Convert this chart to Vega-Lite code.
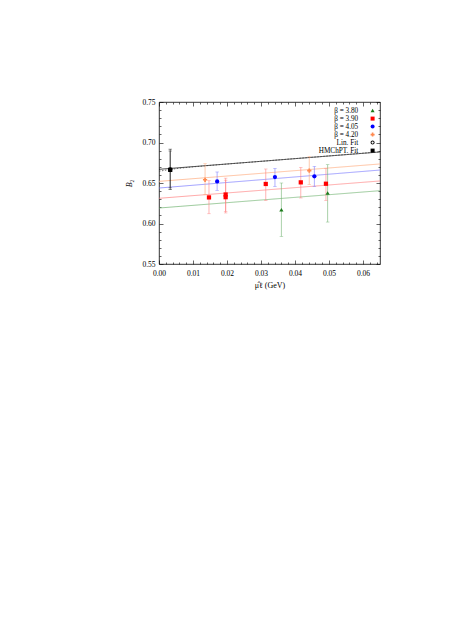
{
  "$schema": "https://vega.github.io/schema/vega-lite/v6.json",
  "autosize": "none",
  "width": 221,
  "height": 162,
  "padding": {"left": 159, "top": 102, "right": 75, "bottom": 379},
  "background": "white",
  "config": {
    "font": "Liberation Serif",
    "view": {"stroke": "black", "strokeWidth": 0.8},
    "axis": {"grid": false, "domain": false, "labelFlush": false, "labelOverlap": false, "tickColor": "black", "tickWidth": 0.6, "labelColor": "black", "titleColor": "black", "labelFontSize": 7.5, "titleFontSize": 8, "titleFontWeight": "normal", "labelFont": "Liberation Serif", "titleFont": "Liberation Serif"}
  },
  "datasets": {
    "fits": [
      {"series": "β = 3.80", "x": 0, "y": 0.6191},
      {"series": "β = 3.80", "x": 0.065, "y": 0.6405},
      {"series": "β = 3.90", "x": 0, "y": 0.6311},
      {"series": "β = 3.90", "x": 0.065, "y": 0.6525},
      {"series": "β = 4.05", "x": 0, "y": 0.6438},
      {"series": "β = 4.05", "x": 0.065, "y": 0.666},
      {"series": "β = 4.20", "x": 0, "y": 0.652},
      {"series": "β = 4.20", "x": 0.065, "y": 0.6735},
      {"series": "Lin. Fit", "x": 0, "y": 0.6669},
      {"series": "Lin. Fit", "x": 0.065, "y": 0.6883},
      {"series": "HMChPT. Fit", "x": 0, "y": 0.6645},
      {"series": "HMChPT. Fit", "x": 0.003, "y": 0.6666},
      {"series": "HMChPT. Fit", "x": 0.006, "y": 0.6682},
      {"series": "HMChPT. Fit", "x": 0.01, "y": 0.6699},
      {"series": "HMChPT. Fit", "x": 0.015, "y": 0.6717},
      {"series": "HMChPT. Fit", "x": 0.065, "y": 0.6885}
    ],
    "pts": [
      {"series": "β = 3.80", "x": 0.036, "y": 0.617, "lo": 0.584, "hi": 0.65},
      {"series": "β = 3.80", "x": 0.0496, "y": 0.6377, "lo": 0.6018, "hi": 0.6726},
      {"series": "β = 3.90", "x": 0.0147, "y": 0.6322, "lo": 0.612, "hi": 0.6528},
      {"series": "β = 3.90", "x": 0.0196, "y": 0.6358, "lo": 0.615, "hi": 0.656},
      {"series": "β = 3.90", "x": 0.0196, "y": 0.6325, "lo": 0.613, "hi": 0.6535},
      {"series": "β = 3.90", "x": 0.0314, "y": 0.6488, "lo": 0.6285, "hi": 0.6673},
      {"series": "β = 3.90", "x": 0.0417, "y": 0.6508, "lo": 0.6315, "hi": 0.6693},
      {"series": "β = 3.90", "x": 0.0491, "y": 0.6491, "lo": 0.6285, "hi": 0.6677},
      {"series": "β = 4.05", "x": 0.0171, "y": 0.652, "lo": 0.641, "hi": 0.6636},
      {"series": "β = 4.05", "x": 0.0341, "y": 0.6574, "lo": 0.6458, "hi": 0.668},
      {"series": "β = 4.05", "x": 0.0457, "y": 0.6582, "lo": 0.6458, "hi": 0.6705},
      {"series": "β = 4.20", "x": 0.01355, "y": 0.654, "lo": 0.6355, "hi": 0.6738},
      {"series": "β = 4.20", "x": 0.0442, "y": 0.6652, "lo": 0.648, "hi": 0.6828},
      {"series": "Lin. Fit", "x": 0.0033, "y": 0.6668, "lo": 0.6418, "hi": 0.6918},
      {"series": "HMChPT. Fit", "x": 0.0033, "y": 0.6662, "lo": 0.644, "hi": 0.6895}
    ]
  },
  "resolve": {"axis": {"x": "independent", "y": "independent"}},
  "layer": [
    {
      "data": {"name": "fits"},
      "mark": {"type": "line", "strokeWidth": 0.7, "clip": true},
      "encoding": {
        "x": {"field": "x", "type": "quantitative", "scale": {"domain": [0, 0.065], "nice": false, "zero": false},
              "axis": {"orient": "bottom", "ticks": false, "values": [0, 0.01, 0.02, 0.03, 0.04, 0.05, 0.06], "format": ".2f", "labelPadding": 5, "title": "μ̂ℓ (GeV)", "titlePadding": 5}},
        "y": {"field": "y", "type": "quantitative", "scale": {"domain": [0.55, 0.75], "nice": false, "zero": false},
              "axis": {"orient": "left", "ticks": false, "values": [0.55, 0.6, 0.65, 0.7, 0.75], "format": ".2f", "labelPadding": 4, "title": "B₂", "titlePadding": 8, "titleFontStyle": "italic"}},
        "detail": {"field": "series"},
        "stroke": {"field": "series", "type": "nominal", "legend": null,
                   "scale": {"domain": ["HMChPT. Fit", "Lin. Fit", "β = 4.20", "β = 4.05", "β = 3.90", "β = 3.80"],
                             "range": ["#333333", "#000000", "#ffa878", "#7878ff", "#ff8080", "#6fb26f"]}},
        "strokeDash": {"field": "series", "type": "nominal", "legend": null,
                       "scale": {"domain": ["HMChPT. Fit", "Lin. Fit", "β = 4.20", "β = 4.05", "β = 3.90", "β = 3.80"],
                                 "range": [[1.5, 1.5], [1, 0], [1, 0], [1, 0], [1, 0], [1, 0]]}}
      }
    },
    {
      "data": {"name": "pts"},
      "mark": {"type": "rule", "strokeWidth": 0.6},
      "encoding": {
        "x": {"field": "x", "type": "quantitative",
              "axis": {"orient": "bottom", "labels": false, "title": null, "tickSize": -4, "values": [0, 0.01, 0.02, 0.03, 0.04, 0.05, 0.06]}},
        "y": {"field": "lo", "type": "quantitative",
              "axis": {"orient": "left", "labels": false, "title": null, "tickSize": -4, "values": [0.55, 0.6, 0.65, 0.7, 0.75]}},
        "y2": {"field": "hi"},
        "stroke": {"field": "series", "type": "nominal", "legend": null}
      }
    },
    {
      "data": {"name": "pts"},
      "mark": {"type": "tick", "orient": "horizontal", "size": 3.5, "thickness": 0.6},
      "encoding": {
        "x": {"field": "x", "type": "quantitative",
              "axis": {"orient": "bottom", "labels": false, "title": null, "tickSize": -2, "values": [0.002, 0.004, 0.006, 0.008, 0.012, 0.014, 0.016, 0.018, 0.022, 0.024, 0.026, 0.028, 0.032, 0.034, 0.036, 0.038, 0.042, 0.044, 0.046, 0.048, 0.052, 0.054, 0.056, 0.058, 0.062, 0.064]}},
        "y": {"field": "lo", "type": "quantitative",
              "axis": {"orient": "left", "labels": false, "title": null, "tickSize": -2, "values": [0.56, 0.57, 0.58, 0.59, 0.61, 0.62, 0.63, 0.64, 0.66, 0.67, 0.68, 0.69, 0.71, 0.72, 0.73, 0.74]}},
        "fill": {"field": "series", "type": "nominal", "legend": null,
                 "scale": {"domain": ["HMChPT. Fit", "Lin. Fit", "β = 4.20", "β = 4.05", "β = 3.90", "β = 3.80"],
                           "range": ["#333333", "#000000", "#ffa878", "#7878ff", "#ff8080", "#6fb26f"]}}
      }
    },
    {
      "data": {"name": "pts"},
      "mark": {"type": "tick", "orient": "horizontal", "size": 3.5, "thickness": 0.6},
      "encoding": {
        "x": {"field": "x", "type": "quantitative",
              "axis": {"orient": "top", "labels": false, "title": null, "tickSize": -4, "values": [0, 0.01, 0.02, 0.03, 0.04, 0.05, 0.06]}},
        "y": {"field": "hi", "type": "quantitative",
              "axis": {"orient": "right", "labels": false, "title": null, "tickSize": -4, "values": [0.55, 0.6, 0.65, 0.7, 0.75]}},
        "fill": {"field": "series", "type": "nominal", "legend": null}
      }
    },
    {
      "data": {"name": "pts"},
      "mark": {"type": "point", "filled": true, "size": 18, "opacity": 1},
      "encoding": {
        "x": {"field": "x", "type": "quantitative",
              "axis": {"orient": "top", "labels": false, "title": null, "tickSize": -2, "values": [0.002, 0.004, 0.006, 0.008, 0.012, 0.014, 0.016, 0.018, 0.022, 0.024, 0.026, 0.028, 0.032, 0.034, 0.036, 0.038, 0.042, 0.044, 0.046, 0.048, 0.052, 0.054, 0.056, 0.058, 0.062, 0.064]}},
        "y": {"field": "y", "type": "quantitative",
              "axis": {"orient": "right", "labels": false, "title": null, "tickSize": -2, "values": [0.56, 0.57, 0.58, 0.59, 0.61, 0.62, 0.63, 0.64, 0.66, 0.67, 0.68, 0.69, 0.71, 0.72, 0.73, 0.74]}},
        "shape": {"field": "series", "type": "nominal",
                  "scale": {"domain": ["β = 3.80", "β = 3.90", "β = 4.05", "β = 4.20", "Lin. Fit", "HMChPT. Fit"],
                            "range": ["triangle-up", "square", "circle", "cross", "M0,-1A1,1 0 1,1 0,1A1,1 0 1,1 0,-1ZM0,-0.55A0.55,0.55 0 1,0 0,0.55A0.55,0.55 0 1,0 0,-0.55Z", "square"]},
                  "legend": {
                    "title": null, "orient": "top-right", "offset": 5, "padding": 0,
                    "symbolSize": 16, "labelAlign": "right", "labelOffset": -18,
                    "labelFont": "Liberation Serif", "labelFontSize": 7.2, "labelColor": "black", "rowPadding": 0
                  }},
        "color": {"field": "series", "type": "nominal",
                  "scale": {"domain": ["β = 3.80", "β = 3.90", "β = 4.05", "β = 4.20", "Lin. Fit", "HMChPT. Fit"],
                            "range": ["#1a7a1a", "#ff0000", "#0000ff", "#ff8a50", "#000000", "#000000"]},
                  "legend": {
                    "title": null, "orient": "top-right", "offset": 5, "padding": 0,
                    "symbolSize": 16, "labelAlign": "right", "labelOffset": -18,
                    "labelFont": "Liberation Serif", "labelFontSize": 7.2, "labelColor": "black", "rowPadding": 0
                  }}
      }
    }
  ]
}
